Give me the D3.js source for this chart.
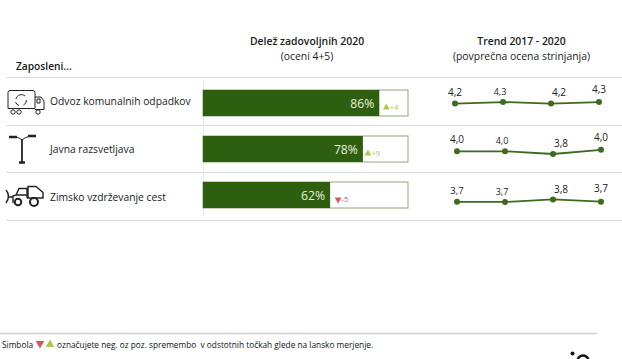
<!DOCTYPE html>
<html>
<head>
<meta charset="utf-8">
<script src="https://cdn.jsdelivr.net/npm/d3@7"></script>
<style>
    html, body { margin: 0; padding: 0; background: #fff; overflow: hidden; }
    text { font-family: "Open Sans", sans-serif; }
</style>
</head>
<body>
<div id="chart"></div>
<script>
// data
const categories = ["Odvoz komunalnih odpadkov", "Javna razsvetljava", "Zimsko vzdrževanje cest"];
const shares = [86, 78, 62];
const changes = [4, 9, -5];
const years = [2017, 2018, 2019, 2020];
const trendLabels = [
    ["4,2", "4,3", "4,2", "4,3"],
    ["4,0", "4,0", "3,8", "4,0"],
    ["3,7", "3,7", "3,8", "3,7"]
];
const trendValues = [
    [4.2, 4.3, 4.2, 4.3],
    [3.98, 3.98, 3.8, 4.08],
    [3.68, 3.67, 3.84, 3.69]
];

// layout per row / per point, tuned by eye
const trendLeft = [455, 457, 457];
const trendMid = [102.8, 151.6, 201.2];
const changeGap = [7, 5, 8];
const labelShift = [0, -3, 8, 0];
const labelLift = [
    [7.5, 7, 7.5, 8.7],
    [8, 7.3, 6.7, 8.8],
    [7.5, 6.7, 6, 9.7]
];
const labelSize = [
    [10, 9, 10, 10],
    [10, 9, 10, 10],
    [9.5, 9, 10, 10]
];

const width = 622;
const height = 359;
const green = "#2e5f0e";
const lineGreen = "#3d6a1e";
const rule = "#d9d9d9";
const upColor = "#b5c24f";
const downColor = "#d0565f";

const svg = d3.select("#chart")
    .append("svg")
    .attr("width", width)
    .attr("height", height)
    .style("display", "block");

// rows
const rowY = d3.scaleBand()
    .domain(categories)
    .range([77.5, 220.5]);

// separators
svg.append("g")
    .selectAll("line")
    .data([77.5, 125.5, 172.5, 220.5])
    .join("line")
    .attr("x1", 7)
    .attr("x2", 622)
    .attr("y1", d => d)
    .attr("y2", d => d)
    .attr("stroke", rule)
    .attr("stroke-width", 1);

svg.append("line")
    .attr("x1", 203.5).attr("x2", 203.5)
    .attr("y1", 80).attr("y2", 216)
    .attr("stroke", "#e8e8e8");

// headers
const header = (x, y, str, weight) => svg.append("text")
    .attr("x", x).attr("y", y)
    .attr("text-anchor", "middle")
    .attr("font-size", 10.4)
    .attr("font-weight", weight)
    .attr("fill", "#1a1a1a")
    .text(str);

header(307, 45, "Delež zadovoljnih 2020", 600);
header(307, 60, "(oceni 4+5)", 400);
header(521.5, 45, "Trend 2017 - 2020", 600);
header(521.5, 60, "(povprečna ocena strinjanja)", 400);

svg.append("text")
    .attr("x", 16).attr("y", 70)
    .attr("font-size", 10.2)
    .attr("font-weight", 600)
    .attr("fill", "#1a1a1a")
    .text("Zaposleni...");

// category labels
svg.append("g")
    .selectAll("text")
    .data(categories)
    .join("text")
    .attr("x", 50)
    .attr("y", d => rowY(d) + rowY.bandwidth() / 2 + 4)
    .attr("font-size", 10.3)
    .attr("fill", "#1a1a1a")
    .text(d => d);

// bars
const x = d3.scaleLinear()
    .domain([0, 100])
    .range([203, 408]);

const barH = 26;
const barY = d3.scalePoint()
    .domain(categories)
    .range([90, 182]);

svg.append("g")
    .selectAll("rect")
    .data(categories)
    .join("rect")
    .attr("x", x(0))
    .attr("y", barY)
    .attr("width", x(100) - x(0))
    .attr("height", barH)
    .attr("fill", "#fff")
    .attr("stroke", "#8fa67c")
    .attr("stroke-width", 1);

svg.append("g")
    .selectAll("rect")
    .data(categories)
    .join("rect")
    .attr("x", x(0))
    .attr("y", barY)
    .attr("width", (d, i) => x(shares[i]) - x(0))
    .attr("height", barH)
    .attr("fill", green);

svg.append("g")
    .selectAll("text")
    .data(categories)
    .join("text")
    .attr("x", (d, i) => x(shares[i]) - 5)
    .attr("y", d => barY(d) + 18)
    .attr("text-anchor", "end")
    .attr("font-size", 12.2)
    .attr("fill", "#e8f0dc")
    .text((d, i) => shares[i] + "%");

// change markers
const tri = d3.symbol().type(d3.symbolTriangle).size(20);

const changeG = svg.append("g")
    .selectAll("g")
    .data(categories)
    .join("g")
    .attr("transform", (d, i) => `translate(${x(shares[i]) + changeGap[i]},${barY(d) + 17.5})`);

changeG.append("path")
    .attr("d", tri)
    .attr("transform", (d, i) => changes[i] < 0 ? "rotate(180)" : null)
    .attr("fill", (d, i) => changes[i] < 0 ? downColor : upColor);

changeG.append("text")
    .attr("x", 3.5)
    .attr("y", 2.8)
    .attr("font-size", 7.5)
    .attr("fill", (d, i) => changes[i] < 0 ? downColor : upColor)
    .text((d, i) => (changes[i] < 0 ? "-" : "+") + Math.abs(changes[i]));

// trend lines
const trendStep = d3.scaleLinear()
    .domain([years[0], years[3]])
    .range([0, 144]);

categories.forEach((cat, r) => {
    const mean = d3.mean(trendValues[r]);
    const y = d3.scaleLinear()
        .domain([mean - 1, mean + 1])
        .range([trendMid[r] + 15, trendMid[r] - 15]);
    const px = d => trendLeft[r] + trendStep(d);

    const g = svg.append("g");

    g.append("path")
        .datum(trendValues[r])
        .attr("fill", "none")
        .attr("stroke", lineGreen)
        .attr("stroke-width", 1.8)
        .attr("d", d3.line().x((d, i) => px(years[i])).y(d => y(d)));

    g.selectAll("circle")
        .data(trendValues[r])
        .join("circle")
        .attr("cx", (d, i) => px(years[i]))
        .attr("cy", d => y(d))
        .attr("r", 3)
        .attr("fill", lineGreen);

    g.selectAll("text")
        .data(trendValues[r])
        .join("text")
        .attr("x", (d, i) => px(years[i]) + labelShift[i])
        .attr("y", (d, i) => y(d) - labelLift[r][i])
        .attr("text-anchor", "middle")
        .attr("font-size", (d, i) => labelSize[r][i])
        .attr("fill", "#222")
        .text((d, i) => trendLabels[r][i]);
});

// icons
const icons = svg.append("g")
    .attr("fill", "none")
    .attr("stroke", "#222")
    .attr("stroke-width", 1);

// truck with recycling arrows
icons.append("path").attr("d", "M10 90.5h23q2 0 2 2v16H8v-16q0-2 2-2z");
icons.append("path").attr("d", "M35 97h6l3 4v8.5h-9");
icons.append("path").attr("d", "M37 99h3v4h-3z");
icons.append("circle").attr("cx", 13).attr("cy", 112).attr("r", 2.2);
icons.append("circle").attr("cx", 19).attr("cy", 112).attr("r", 2.2);
icons.append("circle").attr("cx", 38).attr("cy", 112).attr("r", 2.2);
icons.append("path").attr("d", "M16 99a5.5 5.5 0 0 1 9-3M26.5 100a5.5 5.5 0 0 1-3 5M19 105.5a5.5 5.5 0 0 1-3.5-3.5");

// street lamp
icons.append("path").attr("stroke-width", 1.8).attr("d", "M22 139V162");
icons.append("path").attr("stroke-width", 1).attr("d", "M22 140q-3 -3 -7 -3M22 140q3 -3 7 -3.5");
icons.append("path").attr("stroke-width", 2.6).attr("d", "M9 137h8M28 136h8M19 162.5h6");

// snow plough
icons.append("path").attr("stroke-width", 1.4).attr("d", "M13 203V196l3-1 3-6.5h8V198M16 195h11M27 198H43V192.5L36 186.5H28V198");
icons.append("path").attr("stroke-width", 1.4).attr("d", "M6 190q5 6 0 13M8 197h5");
icons.append("circle").attr("fill", "#fff").attr("stroke-width", 2).attr("cx", 18).attr("cy", 202).attr("r", 3.3);
icons.append("circle").attr("fill", "#fff").attr("stroke-width", 2).attr("cx", 34).attr("cy", 202).attr("r", 4);

// footer
svg.append("line")
    .attr("x1", 0).attr("x2", 597)
    .attr("y1", 333.5).attr("y2", 333.5)
    .attr("stroke", "#d0d0d0")
    .attr("stroke-width", 1.5);

const footY = 348;
svg.append("text").attr("x", 2).attr("y", footY)
    .attr("font-size", 8.3).attr("fill", "#111")
    .text("Simbola");
svg.append("path")
    .attr("d", d3.symbol().type(d3.symbolTriangle).size(32))
    .attr("transform", `translate(40,${footY - 4.5}) rotate(180)`)
    .attr("fill", downColor);
svg.append("path")
    .attr("d", d3.symbol().type(d3.symbolTriangle).size(32))
    .attr("transform", `translate(50,${footY - 3.5})`)
    .attr("fill", upColor);
svg.append("text").attr("x", 57).attr("y", footY)
    .attr("font-size", 8.3).attr("fill", "#111")
    .attr("xml:space", "preserve")
    .text("označujete neg. oz poz. spremembo  v odstotnih točkah glede na lansko merjenje.");

// cut off logo in the corner
svg.append("circle").attr("cx", 572.5).attr("cy", 353.5).attr("r", 2).attr("fill", "#111");
svg.append("circle").attr("cx", 583).attr("cy", 361).attr("r", 5.5)
    .attr("fill", "none").attr("stroke", "#111").attr("stroke-width", 2.5);
</script>
</body>
</html>
